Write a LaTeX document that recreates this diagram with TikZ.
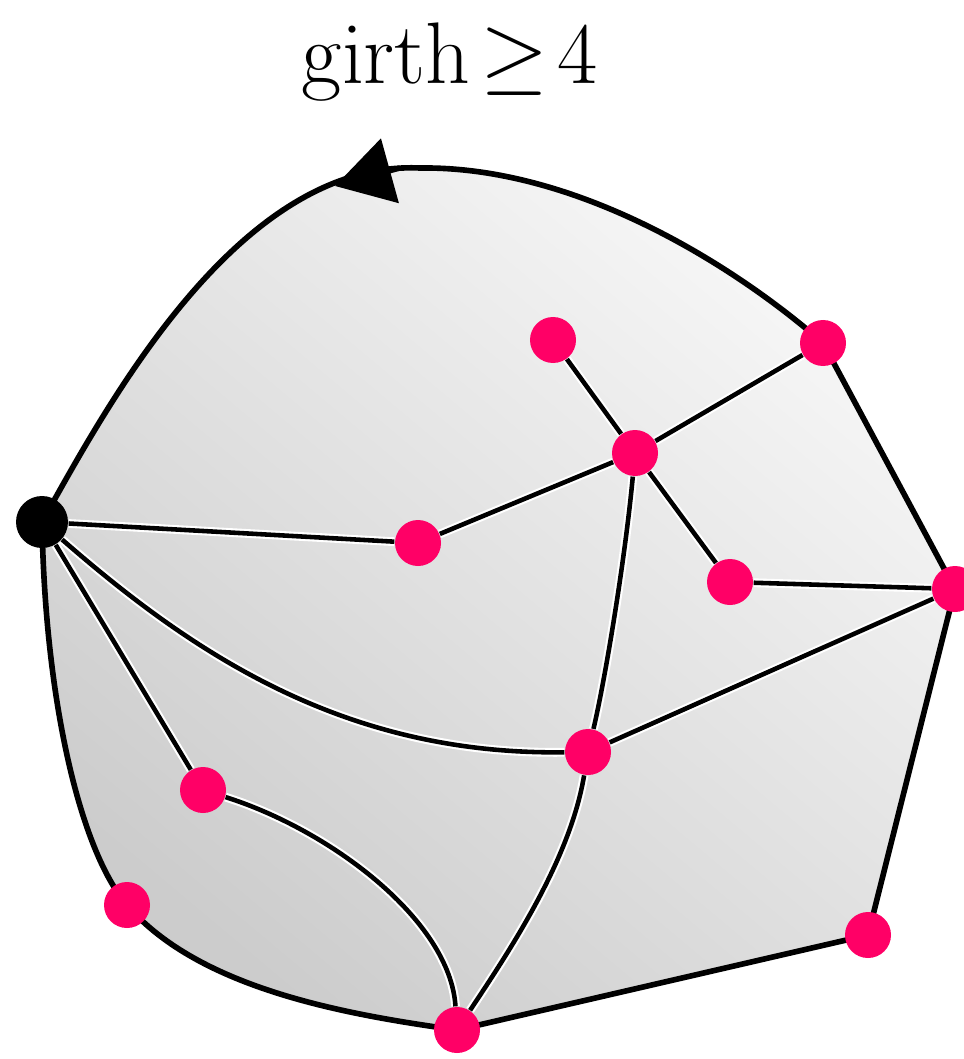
\documentclass[tikz,border=0pt]{standalone}
\usepackage{tikz}
\usetikzlibrary{arrows.meta, backgrounds}
\definecolor{dotpink}{RGB}{255, 0, 102}
\tikzset{
    vertex/.style={circle, fill=dotpink, inner sep=0pt, minimum size=4.6mm},
    root/.style={circle, fill=black, inner sep=0pt, minimum size=5.2mm},
    edge/.style={line width=1.3pt, preaction={draw=white, line width=2.5pt}},
    rim/.style={line width=1.6pt, preaction={draw=white, line width=2.9pt}},
    face/.style={top color=gray!6, bottom color=gray!40, shading angle=-40},
    orient/.style={-{Triangle[length=5.7mm, width=6.6mm]}, line width=1.5pt},
}

\begin{document}
\begin{tikzpicture}[x=0.1mm, y=-0.1mm]
    \useasboundingbox (0,0) rectangle (964,1059);

    % Title
    \node[inner sep=0pt] (title) at (450,62) {\fontsize{25}{30}\selectfont $\mathrm{girth}\mkern2mu{\geq}\mkern2mu4$};

    % Vertices
    \node[root] (v) at (42,522) {};
    \node[vertex] (leaf) at (553,340) {};
    \node[vertex] (ne) at (823,343) {};
    \node[vertex] (hub) at (635,453) {};
    \node[vertex] (mid) at (418,543) {};
    \node[vertex] (spur) at (730,582) {};
    \node[vertex] (east) at (955,589) {};
    \node[vertex] (cross) at (588,752) {};
    \node[vertex] (low) at (203,790) {};
    \node[vertex] (sw) at (127,905) {};
    \node[vertex] (se) at (868,935) {};
    \node[vertex] (south) at (457,1030) {};

    \begin{scope}[on background layer]
        % Outer face
        \draw[rim, face] (v.center) .. controls (110,400) and (240,160) .. (420,168)
            .. controls (580,166) and (740,270) .. (ne.center)
            -- (east.center) -- (se.center) -- (south.center)
            .. controls (350,1015) and (200,990) .. (sw.center)
            .. controls (80,850) and (45,700) .. (v.center) -- cycle;

        % Inner edges
        \draw[edge] (v) -- (mid);
        \draw[edge] (mid) -- (hub);
        \draw[edge] (hub) -- (ne);
        \draw[edge] (leaf) -- (hub);
        \draw[edge] (hub) -- (spur);
        \draw[edge] (spur) -- (east);
        \draw[edge] (hub) .. controls (625,560) and (605,680) .. (cross);
        \draw[edge] (v) .. controls (200,660) and (350,755) .. (cross);
        \draw[edge] (cross) -- (east);
        \draw[edge] (cross) .. controls (570,860) and (510,950) .. (south);
        \draw[edge] (v) -- (low);
        \draw[edge] (low) .. controls (330,830) and (450,920) .. (south);
    \end{scope}

    % Orientation of the outer face
    \coordinate (tail) at (400,168);
    \coordinate (tip) at (335,186);
    \draw[orient] (tail) -- (tip);
\end{tikzpicture}
\end{document}
